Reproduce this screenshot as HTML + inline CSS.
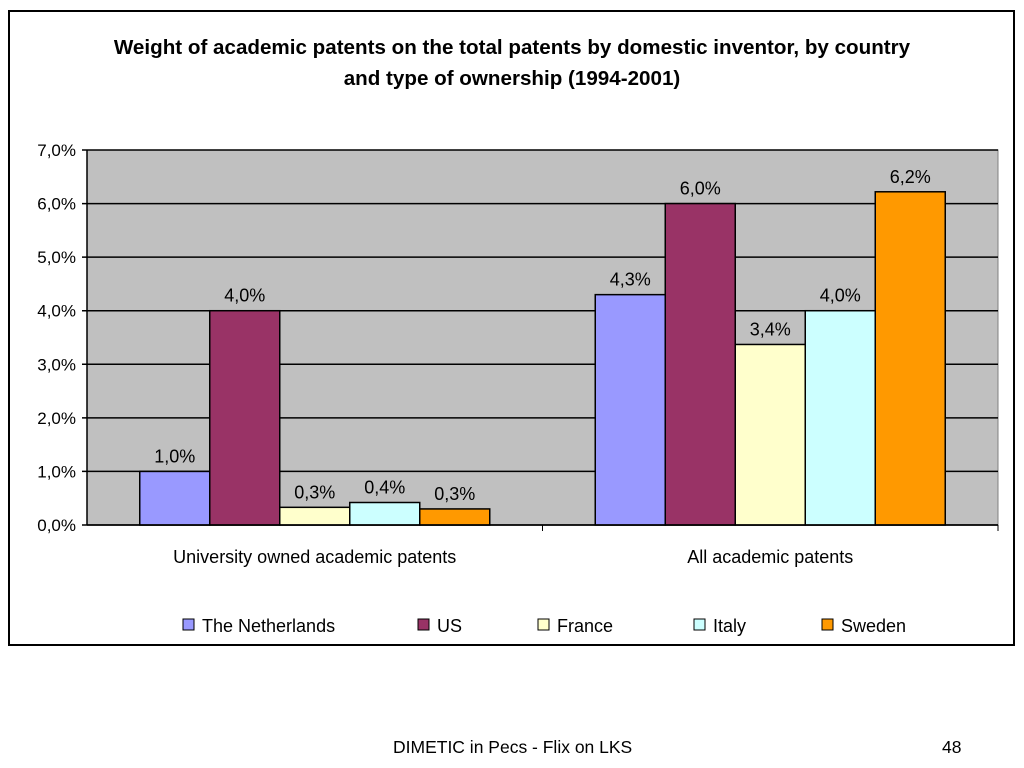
<!DOCTYPE html>
<html><head><meta charset="utf-8"><style>
body{margin:0;width:1024px;height:768px;background:#fff;font-family:"Liberation Sans",sans-serif;position:relative;overflow:hidden}
#frame{position:absolute;left:8px;top:10px;width:1007px;height:636px;border:2px solid #000;box-sizing:border-box}
.t{position:absolute;white-space:nowrap}
</style></head><body>
<div id="frame"></div>
<div class="t" style="left:0;width:1024px;top:33px;text-align:center;font-weight:bold;font-size:20px;line-height:31px;transform:scaleX(1.03)">Weight of academic patents on the total patents by domestic inventor, by country<br>and type of ownership (1994-2001)</div>
<svg id="chart" width="1024" height="768" style="position:absolute;left:0;top:0" font-family="Liberation Sans, sans-serif"></svg>
<div class="t" style="left:393px;top:737px;font-size:17.5px">DIMETIC in Pecs - Flix on LKS</div>
<div class="t" style="left:942px;top:737px;font-size:17.5px">48</div>
<script>
const categories=["University owned academic patents","All academic patents"];
const seriesNames=["The Netherlands","US","France","Italy","Sweden"];
const seriesColors=["#9999ff","#993366","#ffffcc","#ccffff","#ff9900"];
const netherlands=[1.0,4.3];
const us=[4.0,6.0];
const france=[0.33,3.37];
const italy=[0.42,4.0];
const sweden=[0.3,6.22];
const labels=[["1,0%","4,0%","0,3%","0,4%","0,3%"],["4,3%","6,0%","3,4%","4,0%","6,2%"]];
const yTicks=[0,1,2,3,4,5,6,7];
const yTickLabels=["0,0%","1,0%","2,0%","3,0%","4,0%","5,0%","6,0%","7,0%"];
const series=[netherlands,us,france,italy,sweden];
const svg=document.getElementById('chart');
const NS="http://www.w3.org/2000/svg";
const X0=87,X1=998,Y0=525,Y1=150,YMAX=7;
const y=v=>Y0-(v/YMAX)*(Y0-Y1);
const catW=(X1-X0)/categories.length, barW=70, gOff=(catW-barW*5)/2;
function mk(t,a){const e=document.createElementNS(NS,t);for(const k in a)e.setAttribute(k,a[k]);svg.appendChild(e);return e;}
let bg=mk('rect',{x:X0,y:Y1,width:X1-X0,height:Y0-Y1,fill:'#c0c0c0',stroke:'#808080'});


yTicks.forEach((v,i)=>{
  const l=mk('line',{x1:X0-5,x2:X1,y1:y(v),y2:y(v),stroke:'#000','stroke-width':1.5});
  
  
  const t=mk('text',{x:X0-11,y:y(v)+6,'text-anchor':'end','font-size':17});
  t.textContent=yTickLabels[i];
  
  
});
mk('line',{x1:X0,x2:X0,y1:Y1,y2:Y0,stroke:'#000','stroke-width':1.5});
categories.forEach((c,ci)=>{
  const gx=X0+ci*catW;
  const tk=mk('line',{x1:gx+catW,x2:gx+catW,y1:Y0,y2:Y0+6,stroke:'#000'});
  
  
  series.forEach((s,si)=>{
    const bx=gx+gOff+si*barW;
    const r=mk('rect',{x:bx,y:y(s[ci]),width:barW,height:Y0-y(s[ci]),fill:seriesColors[si],stroke:'#000','stroke-width':1.5});
    
    
    const t=mk('text',{x:bx+barW/2,y:y(s[ci])-9,'text-anchor':'middle','font-size':18});
    t.textContent=labels[ci][si];
    
    
  });
  const t=mk('text',{x:gx+catW/2,y:563,'text-anchor':'middle','font-size':18});
  t.textContent=c;
  
  
});
mk('line',{x1:X0,x2:X1,y1:Y0,y2:Y0,stroke:'#000','stroke-width':1.5});
const legX=[183,418,538,694,822];
seriesNames.forEach((n,i)=>{
  const r=mk('rect',{x:legX[i],y:619,width:11,height:11,fill:seriesColors[i],stroke:'#000'});
  
  
  const t=mk('text',{x:legX[i]+19,y:632,'font-size':18});
  t.textContent=n;
  
  
});
</script>
</body></html>
